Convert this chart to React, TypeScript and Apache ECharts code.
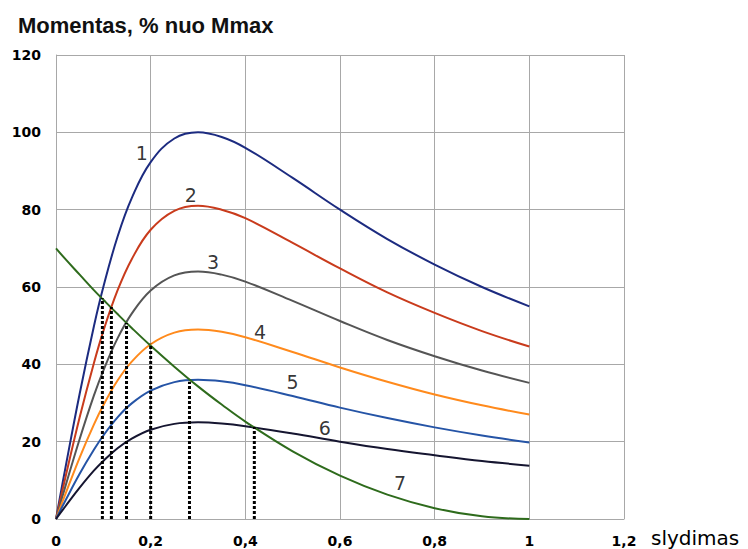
import React, { useEffect, useRef } from "react";
import * as echarts from "echarts";

// slip values (x) at which curve values were read
const slip = [0, 0.02, 0.05, 0.08, 0.1, 0.13, 0.16, 0.2, 0.25, 0.3, 0.35, 0.4, 0.5, 0.6, 0.7, 0.8, 0.9, 1.0];

const curve1 = [0, 13.3, 32.4, 49.8, 60.0, 73.0, 83.0, 92.3, 98.4, 100, 98.8, 96.0, 88.2, 80.0, 72.4, 65.8, 60.0, 55.0];
const curve2 = [0, 10.8, 26.3, 40.3, 48.6, 59.1, 67.2, 74.8, 79.7, 81, 80.0, 77.8, 71.4, 64.8, 58.6, 53.3, 48.6, 44.6];
const curve3 = [0, 8.5, 20.7, 31.9, 38.4, 46.7, 53.1, 59.1, 63.0, 64, 63.2, 61.4, 56.4, 51.2, 46.3, 42.1, 38.4, 35.2];
const curve4 = [0, 6.5, 15.9, 24.4, 29.4, 35.8, 40.7, 45.2, 48.2, 49, 48.4, 47.0, 43.2, 39.2, 35.5, 32.2, 29.4, 27.0];
const curve5 = [0, 4.8, 11.7, 17.9, 21.6, 26.3, 29.9, 33.2, 35.4, 36, 35.6, 34.6, 31.8, 28.8, 26.1, 23.7, 21.6, 19.8];
const curve6 = [0, 3.3, 8.1, 12.5, 15.0, 18.3, 20.8, 23.1, 24.6, 25, 24.7, 24.0, 22.1, 20.0, 18.1, 16.5, 15.0, 13.8];
const curve7 = [70, 67.2, 63.2, 59.2, 56.7, 53.0, 49.4, 44.8, 39.4, 34.3, 29.6, 25.2, 17.5, 11.2, 6.3, 2.8, 0.7, 0];

const curveColors = ["#1c2b80", "#c93b1c", "#555555", "#ff8a1c", "#2554a6", "#151530", "#2e6b1c"];

// intersection points of load curve (7) with curves 1..6
const dropSlip = [0.098, 0.117, 0.149, 0.2, 0.282, 0.419];
const dropValue = [57.1, 54.8, 50.7, 45.3, 35.5, 23.8];

// curve number labels
const labelText = ["1", "2", "3", "4", "5", "6", "7"];
const labelSlip = [0.181, 0.285, 0.332, 0.431, 0.5, 0.568, 0.727];
const labelValue = [94.6, 83.8, 66.5, 48.4, 35.4, 23.5, 9.3];

const xTickLabels = ["0", "0,2", "0,4", "0,6", "0,8", "1", "1,2"];
const yTickLabels = ["0", "20", "40", "60", "80", "100", "120"];

const titleText = "Momentas, % nuo Mmax";
const xAxisName = "slydimas";

export default function App() {
  const ref = useRef<HTMLDivElement>(null);
  useEffect(() => {
    if (!ref.current) return;
    const chart = echarts.init(ref.current, null, { renderer: "svg" });
    const curves = [curve1, curve2, curve3, curve4, curve5, curve6, curve7];
    const gridColor = "#a8a8a8";
    const series: any[] = curves.map((c, i) => ({
      type: "line",
      data: slip.map((s, j) => [s, c[j]]),
      smooth: 0.4,
      showSymbol: false,
      symbol: "none",
      lineStyle: { color: curveColors[i], width: 2 },
      z: 3,
    }));
    dropSlip.forEach((s, i) => {
      series.push({
        type: "line",
        data: [
          [s, 0],
          [s, dropValue[i]],
        ],
        symbol: "none",
        lineStyle: { color: "#000", width: 3, type: [3, 2] },
        z: 4,
      });
    });
    series.push({
      type: "scatter",
      symbolSize: 0,
      data: labelText.map((t, i) => ({ name: t, value: [labelSlip[i], labelValue[i]] })),
      label: {
        show: true,
        position: "inside",
        formatter: (p: any) => p.name,
        color: "#000",
        fontSize: 19,
        fontFamily: "DejaVu Sans",
      },
      z: 5,
    });
    chart.setOption({
      animation: false,
      title: {
        text: titleText,
        left: 13,
        top: 9,
        textStyle: { fontFamily: "Liberation Sans", fontWeight: "bold", fontSize: 22, color: "#111" },
      },
      grid: { left: 56, right: 124, top: 55, bottom: 30 },
      xAxis: {
        type: "value",
        min: 0,
        max: 1.2,
        interval: 0.2,
        axisLine: { show: true, lineStyle: { color: gridColor, width: 1 } },
        axisTick: { show: false },
        splitLine: { show: true, lineStyle: { color: gridColor, width: 1 } },
        axisLabel: {
          margin: 15,
          color: "#000",
          fontFamily: "DejaVu Sans",
          fontWeight: "bold",
          fontSize: 14,
          formatter: (v: number) => xTickLabels[Math.round(v / 0.2)] ?? "",
        },
      },
      yAxis: {
        type: "value",
        min: 0,
        max: 120,
        interval: 20,
        axisLine: { show: true, lineStyle: { color: gridColor, width: 1 } },
        axisTick: { show: false },
        splitLine: { show: true, lineStyle: { color: gridColor, width: 1 } },
        axisLabel: {
          margin: 15,
          color: "#000",
          fontFamily: "DejaVu Sans",
          fontWeight: "bold",
          fontSize: 14,
          formatter: (v: number) => yTickLabels[Math.round(v / 20)] ?? "",
        },
      },
      graphic: [
        {
          type: "text",
          left: 651,
          top: 528,
          style: { text: xAxisName, fontFamily: "DejaVu Sans", fontSize: 20, fill: "#000" },
        },
      ],
      series,
    });
    return () => chart.dispose();
  }, []);
  return (
    <div
      ref={ref}
      style={{ position: "fixed", left: 0, top: 0, width: 748, height: 549, background: "#fff" }}
    />
  );
}
